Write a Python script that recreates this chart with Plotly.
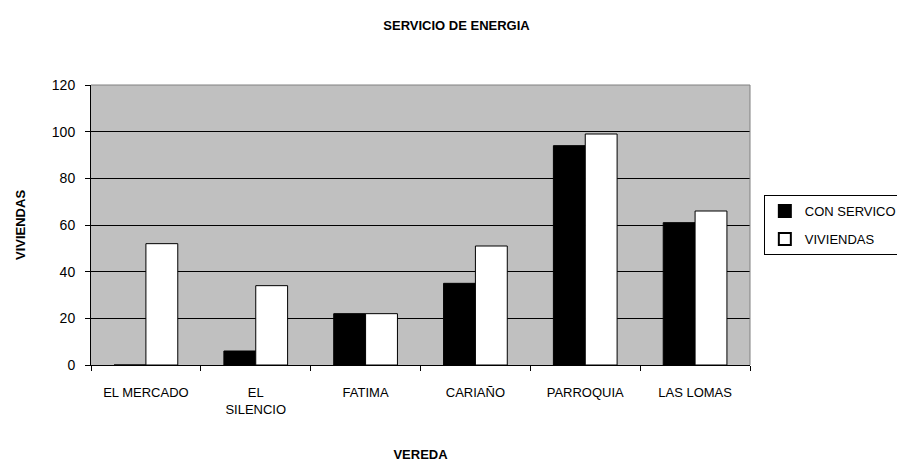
import plotly.graph_objects as go

categories = ["EL MERCADO", "EL<br>SILENCIO", "FATIMA", "CARIAÑO", "PARROQUIA", "LAS LOMAS"]
con_servicio = [0, 6, 22, 35, 94, 61]
viviendas = [52, 34, 22, 51, 99, 66]
y_ticks = [0, 20, 40, 60, 80, 100, 120]

FONT = "Liberation Sans, Arial, sans-serif"

fig = go.Figure()
fig.add_trace(go.Bar(x=categories, y=con_servicio, name="CON SERVICO", legendgroup="a",
                     marker=dict(color="black", line=dict(color="black", width=1))))
fig.add_trace(go.Bar(x=categories, y=viviendas, name="VIVIENDAS", legendgroup="b",
                     marker=dict(color="white", line=dict(color="black", width=1))))

# page body has an 8px margin, so the figure is offset by 8px
fig.update_layout(
    width=897, height=454,
    margin=dict(l=83, r=155, t=77, b=97, autoexpand=False),
    paper_bgcolor="white", plot_bgcolor="#C0C0C0",
    font=dict(family=FONT, size=13, color="black"),
    barmode="group", bargap=0.42, bargroupgap=0,
    title=dict(text="<b>SERVICIO DE ENERGIA</b>", x=0.5, xref="container",
               y=0.962, yref="container", xanchor="center", yanchor="middle",
               font=dict(size=13, family=FONT)),
    legend=dict(x=1.021, y=0.607, xanchor="left", yanchor="top",
                bordercolor="black", borderwidth=1, bgcolor="white",
                font=dict(size=13, family=FONT), itemsizing="constant",
                tracegroupgap=8),
    showlegend=True,
)
fig.update_xaxes(
    type="category", showgrid=False, showline=True, linecolor="black", linewidth=1,
    ticks="outside", tickson="boundaries", ticklen=5, tickcolor="black",
    tickfont=dict(size=13, family=FONT), ticklabelstandoff=15, automargin=False,
    title=dict(text="<b>VEREDA</b>", font=dict(size=13, family=FONT), standoff=35),
)
fig.update_yaxes(
    range=[0, 120], tickvals=y_ticks, showgrid=True, gridcolor="black", gridwidth=1,
    showline=True, linecolor="black", linewidth=1, ticks="outside", ticklen=5,
    tickcolor="black", tickfont=dict(size=14, family=FONT), zeroline=False,
    ticklabelstandoff=7, automargin=False,
    title=dict(text="<b>VIVIENDAS</b>", font=dict(size=13, family=FONT), standoff=23),
)
fig.add_shape(type="line", xref="paper", yref="paper", x0=0, x1=1, y0=1, y1=1,
              line=dict(color="#808080", width=1), layer="above")
fig.add_shape(type="line", xref="paper", yref="paper", x0=1, x1=1, y0=0, y1=1,
              line=dict(color="#808080", width=1), layer="above")

fig.write_html("out.html")
